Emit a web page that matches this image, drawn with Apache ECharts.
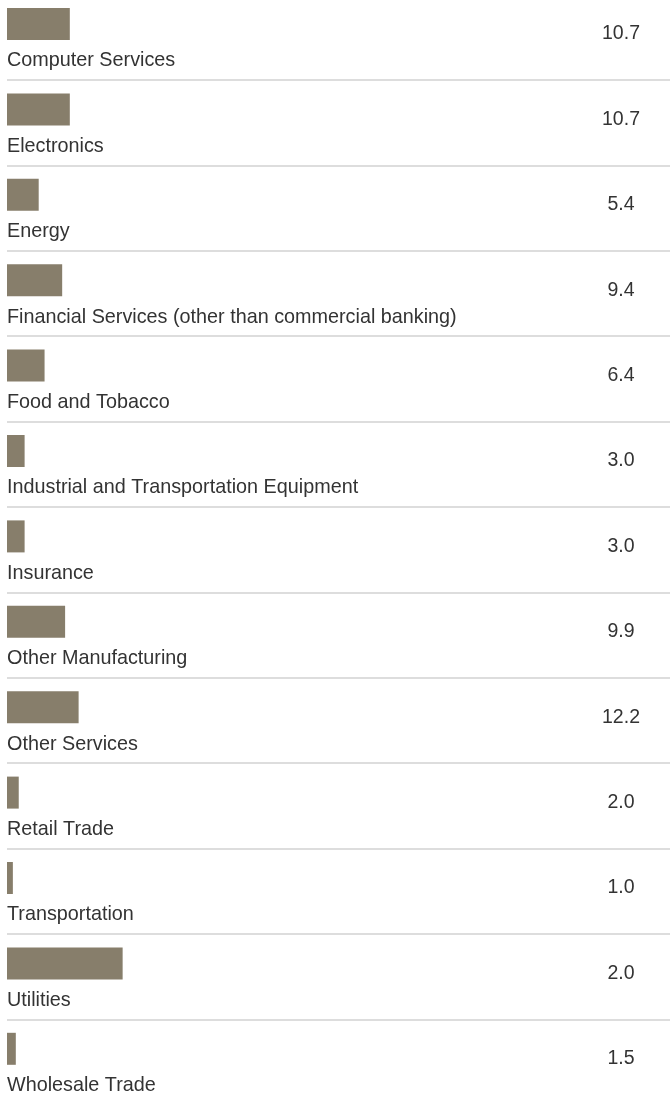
<!DOCTYPE html>
<html>
<head>
<meta charset="utf-8">
<script src="https://cdn.jsdelivr.net/npm/echarts@6/dist/echarts.min.js"></script>
<style>
html, body { margin: 0; padding: 0; background: #ffffff; }
#chart { width: 670px; height: 1104px; }
</style>
</head>
<body>
<div id="chart"></div>
<script>
const categories = [
  'Computer Services',
  'Electronics',
  'Energy',
  'Financial Services (other than commercial banking)',
  'Food and Tobacco',
  'Industrial and Transportation Equipment',
  'Insurance',
  'Other Manufacturing',
  'Other Services',
  'Retail Trade',
  'Transportation',
  'Utilities',
  'Wholesale Trade'
];
// bar lengths as drawn in the picture
const barValues = [10.7, 10.7, 5.4, 9.4, 6.4, 3.0, 3.0, 9.9, 12.2, 2.0, 1.0, 19.7, 1.5];
// numbers printed at the right of each row
const valueLabels = ['10.7', '10.7', '5.4', '9.4', '6.4', '3.0', '3.0', '9.9', '12.2', '2.0', '1.0', '2.0', '1.5'];

const FONT = "'Liberation Sans', Arial, sans-serif";
const ROW = 85.4;
const N = categories.length;

const chart = echarts.init(document.getElementById('chart'), null, { renderer: 'canvas' });
chart.setOption({
  animation: false,
  backgroundColor: '#ffffff',
  grid: [
    { left: 7, width: 587, top: -18.7, height: ROW * N, outerBoundsMode: 'none', containLabel: false },
    { left: 7, right: 0, top: -5.4, height: ROW * N, outerBoundsMode: 'none', containLabel: false }
  ],
  xAxis: [
    { type: 'value', gridIndex: 0, min: 0, max: 100, show: false },
    { type: 'value', gridIndex: 1, min: 0, max: 100, show: false }
  ],
  yAxis: [
    { type: 'category', gridIndex: 0, data: categories, inverse: true, show: false },
    {
      type: 'category', gridIndex: 1, data: categories, inverse: true,
      axisLine: { show: false }, axisTick: { show: false }, axisLabel: { show: false },
      splitLine: { show: true, interval: 0, lineStyle: { color: '#d2d2d2', width: 1.5 } }
    }
  ],
  series: [
    {
      type: 'bar',
      xAxisIndex: 0, yAxisIndex: 0,
      data: barValues,
      barWidth: 32,
      barGap: '-100%',
      itemStyle: { color: '#877e6b' },
      label: {
        show: true,
        position: [0, 53],
        align: 'left',
        verticalAlign: 'middle',
        formatter: '{b}',
        color: '#333333',
        fontFamily: FONT,
        fontSize: 19.8
      },
      silent: true
    },
    {
      type: 'bar',
      xAxisIndex: 0, yAxisIndex: 0,
      data: barValues,
      barWidth: 32,
      barGap: '-100%',
      itemStyle: { color: 'rgba(0,0,0,0)' },
      label: {
        show: true,
        position: [614, 26],
        align: 'center',
        verticalAlign: 'middle',
        formatter: function (p) { return valueLabels[p.dataIndex]; },
        color: '#333333',
        fontFamily: FONT,
        fontSize: 19.5
      },
      silent: true
    }
  ]
});
</script>
</body>
</html>
